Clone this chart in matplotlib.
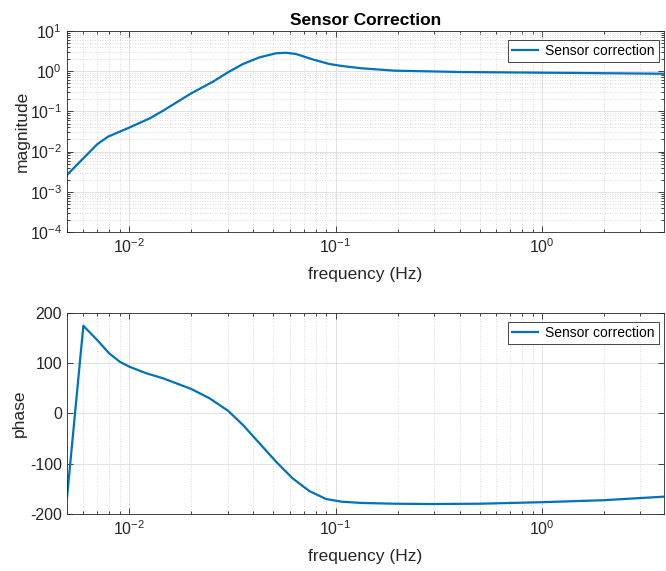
import matplotlib
matplotlib.use("Agg")
import matplotlib.pyplot as plt
from matplotlib.ticker import LogLocator, NullFormatter, FixedLocator

plt.rcParams['font.family'] = ['Liberation Sans', 'DejaVu Sans']
plt.rcParams['mathtext.fontset'] = 'custom'
plt.rcParams['mathtext.rm'] = 'Liberation Sans'
plt.rcParams['mathtext.it'] = 'Liberation Sans'
plt.rcParams['axes.unicode_minus'] = False

# magnitude data
mag_freq = [0.005, 0.006, 0.007, 0.0079, 0.009, 0.01, 0.0126, 0.0146,
            0.02, 0.0255, 0.0301, 0.0356, 0.0428, 0.0515, 0.0575, 0.0643,
            0.0774, 0.0933, 0.107, 0.134, 0.194, 0.407, 1.02, 3.9]
mag_vals = [0.00263, 0.00681, 0.0152, 0.0235, 0.0313, 0.0394, 0.0673, 0.104,
            0.282, 0.550, 0.938, 1.51, 2.21, 2.79, 2.88, 2.68,
            1.97, 1.51, 1.35, 1.18, 1.03, 0.955, 0.918, 0.865]

# phase data
ph_freq = [0.005, 0.006, 0.007, 0.008, 0.009, 0.01, 0.0121, 0.0146,
           0.02, 0.0245, 0.0301, 0.0356, 0.0428, 0.0515, 0.0619, 0.0746,
           0.0898, 0.107, 0.134, 0.194, 0.291, 0.5, 1.0, 2.0, 3.9]
ph_vals = [-167, 174, 145.8, 119.4, 102.8, 93, 79.8, 69.8,
           48.6, 30.2, 5.6, -22.8, -59.1, -95.6, -128.6, -153.8,
           -169.6, -175, -177.5, -179, -179.6, -179, -176, -172, -165]

label = 'Sensor correction'
color = '#0072BD'
xlim = (0.005, 3.9)

fig = plt.figure(figsize=(6.66, 5.71), dpi=100)
ax1 = fig.add_axes([0.1006, 0.5937, 0.8964, 0.352])
ax2 = fig.add_axes([0.1006, 0.0993, 0.8964, 0.3531])

def style(ax):
    ax.tick_params(which='both', direction='in', top=True, right=True,
                   labelsize=11.5, colors='#262626', width=0.6)
    ax.tick_params(which='major', length=4)
    ax.tick_params(which='minor', length=2)
    for s in ax.spines.values():
        s.set_color('#262626')
        s.set_linewidth(0.6)
    ax.grid(True, which='major', color='#dcdcdc', linewidth=0.6, linestyle='-')
    ax.set_axisbelow(True)

def legend(ax, ytop):
    leg = ax.legend(loc='upper right', bbox_to_anchor=(0.9916, ytop),
                    borderaxespad=0, fontsize=10, fancybox=False, framealpha=1,
                    edgecolor='#262626', borderpad=0.3, handlelength=1.9,
                    handletextpad=0.5)
    leg.get_frame().set_linewidth(0.6)

# top
ax1.plot(mag_freq, mag_vals, color=color, linewidth=1.6, label=label)
ax1.set_xscale('log')
ax1.set_yscale('log')
ax1.set_xlim(*xlim)
ax1.set_ylim(1e-4, 1e1)
ax1.yaxis.set_major_locator(LogLocator(base=10, numticks=10))
ax1.yaxis.set_minor_locator(LogLocator(base=10, subs=range(2, 10), numticks=20))
ax1.yaxis.set_minor_formatter(NullFormatter())
style(ax1)
ax1.grid(True, which='minor', color='#cfcfcf', linewidth=0.6, linestyle=(0, (1, 2)))
ax1.set_xlabel('frequency (Hz)', fontsize=12.5, color='#262626', labelpad=8)
ax1.set_ylabel('magnitude', fontsize=12.5, color='#262626', labelpad=0)
ax1.set_title('Sensor Correction', fontsize=12.5, fontweight='bold', pad=4)
legend(ax1, 0.955)

# bottom
ax2.plot(ph_freq, ph_vals, color=color, linewidth=1.6, label=label)
ax2.set_xscale('log')
ax2.set_xlim(*xlim)
ax2.set_ylim(-200, 200)
ax2.yaxis.set_major_locator(FixedLocator([-200, -100, 0, 100, 200]))
style(ax2)
ax2.grid(True, which='minor', axis='x', color='#cfcfcf', linewidth=0.6, linestyle=(0, (1, 2)))
ax2.set_xlabel('frequency (Hz)', fontsize=12.5, color='#262626', labelpad=8)
ax2.set_ylabel('phase', fontsize=12.5, color='#262626', labelpad=2)
legend(ax2, 0.954)

fig.savefig('out.png', dpi=100)
